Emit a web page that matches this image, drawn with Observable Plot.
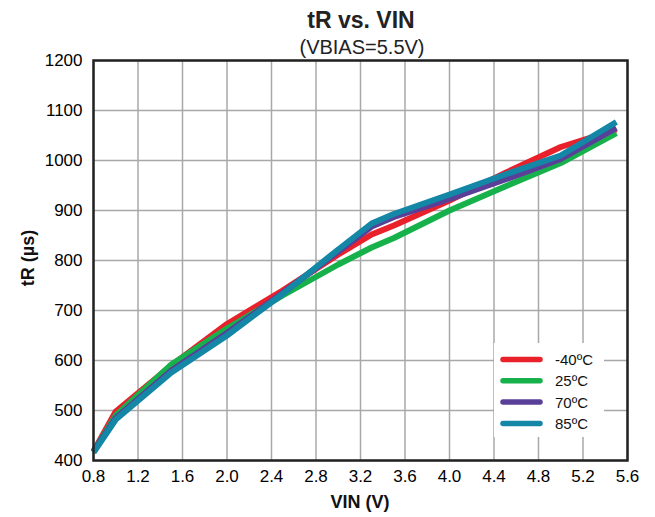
<!DOCTYPE html>
<html>
<head>
<meta charset="utf-8">
<script src="https://cdn.jsdelivr.net/npm/d3@7"></script>
<script src="https://cdn.jsdelivr.net/npm/@observablehq/plot@0.6"></script>
<style>
  html, body { margin: 0; padding: 0; background: #fff; }
  #chart svg { display: block; }
</style>
</head>
<body>
<div id="chart"></div>
<script>
const vin = [0.8, 1.0, 1.5, 2.0, 2.5, 3.0, 3.3, 3.5, 4.0, 4.5, 5.0, 5.5];
const tR_m40 = [418, 498, 590, 673, 740, 812, 852, 870, 920, 975, 1027, 1062];
const tR_25  = [418, 490, 592, 664, 730, 792, 826, 845, 900, 948, 995, 1055];
const tR_70  = [418, 485, 580, 655, 735, 818, 868, 887, 923, 962, 1003, 1065];
const tR_85  = [416, 482, 576, 650, 733, 822, 874, 893, 932, 972, 1010, 1077];
const seriesNames = ["-40ºC", "25ºC", "70ºC", "85ºC"];
const seriesColors = ["#e8212b", "#17b14c", "#5a3f98", "#1486a6"];
const xTicks = [0.8, 1.2, 1.6, 2.0, 2.4, 2.8, 3.2, 3.6, 4.0, 4.4, 4.8, 5.2, 5.6];
const yTicks = [400, 500, 600, 700, 800, 900, 1000, 1100, 1200];

const allSeries = [tR_m40, tR_25, tR_70, tR_85];
const rows = [];
allSeries.forEach((vals, i) => vals.forEach((v, j) => rows.push({x: vin[j], y: v, s: seriesNames[i]})));

const font = "'Liberation Sans', Arial, sans-serif";

const plot = Plot.plot({
  width: 655,
  height: 517,
  marginLeft: 93,
  marginRight: 28,
  marginTop: 60,
  marginBottom: 57,
  style: {fontFamily: font, background: "#fff", color: "#000"},
  x: {domain: [0.8, 5.6]},
  y: {domain: [400, 1200]},
  color: {domain: seriesNames, range: seriesColors},
  marks: [
    Plot.gridX(xTicks, {stroke: "#a8a8a8", strokeOpacity: 1, strokeWidth: 1.5}),
    Plot.gridY(yTicks, {stroke: "#a8a8a8", strokeOpacity: 1, strokeWidth: 1.5}),
    Plot.axisX(xTicks, {tickSize: 0, tickPadding: 9, fontSize: 17, tickFormat: d => d.toFixed(1), label: null}),
    Plot.axisY(yTicks, {tickSize: 0, tickPadding: 11, fontSize: 17, tickFormat: d => String(d), label: null}),
    Plot.line(rows, {x: "x", y: "y", z: "s", stroke: "s", strokeWidth: 6, strokeLinejoin: "miter", strokeLinecap: "butt"}),
    Plot.frame({stroke: "#222", strokeWidth: 2.5})
  ]
});

document.getElementById("chart").appendChild(plot);

const svg = d3.select(plot);
// titles
svg.append("text").attr("x", 361).attr("y", 28).attr("text-anchor", "middle")
  .attr("font-family", font).attr("font-size", 23).attr("font-weight", "bold").attr("fill", "#222")
  .text("tR vs. VIN");
svg.append("text").attr("x", 362).attr("y", 54).attr("text-anchor", "middle")
  .attr("font-family", font).attr("font-size", 20).attr("fill", "#222")
  .text("(VBIAS=5.5V)");
// axis labels
svg.append("text").attr("x", 360).attr("y", 508).attr("text-anchor", "middle")
  .attr("font-family", font).attr("font-size", 18).attr("font-weight", "bold").attr("fill", "#111")
  .text("VIN (V)");
svg.append("text").attr("transform", "translate(34,258) rotate(-90)").attr("text-anchor", "middle")
  .attr("font-family", font).attr("font-size", 18).attr("font-weight", "bold").attr("fill", "#111")
  .text("tR (µs)");
// legend
const lg = svg.append("g").attr("text-anchor", "start");
lg.append("rect").attr("x", 494).attr("y", 343).attr("width", 110).attr("height", 94).attr("fill", "#fff");
seriesNames.forEach((name, i) => {
  const yy = 359.5 + i * 21.3;
  lg.append("line").attr("x1", 503).attr("x2", 540).attr("y1", yy).attr("y2", yy)
    .attr("stroke", seriesColors[i]).attr("stroke-width", 5.5).attr("stroke-linecap", "round");
  lg.append("text").attr("x", 555).attr("y", yy).attr("dy", "0.36em").attr("text-anchor", "start")
    .attr("font-family", font).attr("font-size", 15).attr("fill", "#111").text(name);
});
</script>
</body>
</html>
